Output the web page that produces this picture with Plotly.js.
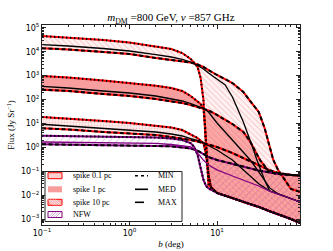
<!DOCTYPE html>
<html><head><meta charset="utf-8">
<script src="https://cdn.plot.ly/plotly-3.0.1.min.js"></script>
<style>html,body{margin:0;padding:0;background:#fff}#chart{width:333px;height:251px}</style>
</head><body><div id="chart"></div>
<script>
// ---- data: b in degrees, flux in Jy/sr ----
// spike 10 pc
const b10Min = [0.1,0.2,0.5,1,2,3,4,5,5.5,6,6.5,7,7.3,7.6,8,10,15,20,30,40,50,60,70,90];
const f10Min = [45000,39000,31000,24000,16800,13000,8800,5000,3400,2300,790,95,5.3,0.29,0.026,0.0123,0.0076,0.0051,0.0032,0.0021,0.0016,0.00126,0.001,0.00067];
const b10Med = [0.1,0.2,0.5,1,2,3,4,5,6,7,8,10,12.4,15,20,25,28.6,35,40,50,60,70,90];
const f10Med = [19600,17300,13600,10700,7480,6000,4720,3710,2650,1890,1280,721,405,127,11.5,1.25,0.294,0.043,0.0148,0.0112,0.0087,0.0069,0.0051];
const b10Max = [0.1,0.2,0.5,1,2,3,4,5,6,7,8,10,15,20,25,30,35,40,44,50,60,70,90];
const f10Max = [13900,12400,9710,8010,5450,4500,3890,3530,2910,2290,1710,1060,490,206,71,30,6.4,1.13,0.294,0.112,0.039,0.018,0.0135];
// spike 1 pc
const b1Min = [0.1,0.2,0.5,1,2,3,4,5,6,6.5,7,7.3,7.6,8,8.5,10,15,20,30,40,50,60,70,90];
const f1Min = [960,830,624,490,378,302,227,140,87,65,43,8.5,0.77,0.069,0.022,0.0123,0.0076,0.0051,0.0032,0.0021,0.0016,0.00126,0.001,0.00067];
const b1Med = [0.1,0.2,0.5,1,2,3,4,5,6,7,8,10,15,20,24,30,40,50,60,70,90];
const f1Med = [357,303,227,187,140,110,86.5,68,53.5,42.9,30,10.4,2.02,0.635,0.294,0.093,0.02,0.0112,0.0087,0.0069,0.0051];
const b1Max = [0.1,0.2,0.5,1,2,3,4,5,6,7,8,10,15,20,24,31,40,50,60,70,90];
const f1Max = [257,227,170,140,105,86.5,71,59,48.6,42.9,35,22.5,9.4,4.4,1.7,0.294,0.089,0.076,0.072,0.069,0.066];
// spike 0.1 pc
const b01Min = [0.1,0.2,0.5,1,2,3,4,5,6,7,7.5,8,8.5,10,15,20,30,40,50,60,70,90];
const f01Min = [18.5,16,12.6,10.4,8.1,6.7,5.3,3.6,2.45,1.5,0.48,0.069,0.022,0.0123,0.0076,0.0051,0.0032,0.0021,0.0016,0.00126,0.001,0.00067];
const b01Med = [0.1,0.2,0.5,1,2,3,4,5,6,7,8,10,15,20,30,40,50,60,70,90];
const f01Med = [9.2,7.8,6.1,5.3,4.37,3.6,2.97,2.33,1.93,1.51,1.19,0.77,0.295,0.113,0.03,0.0148,0.0112,0.0087,0.0069,0.0051];
const b01Max = [0.1,0.2,0.5,1,2,3,4,5,6,7,8,10,15,20,30,40,50,60,70,90];
const f01Max = [6.2,5.6,4.37,3.8,3.27,2.7,2.33,2.02,1.75,1.51,1.31,1.03,0.575,0.356,0.18,0.11,0.085,0.074,0.07,0.066];
// NFW
const bNfwMin = [0.1,0.2,0.5,1,2,3,4,5,5.5,6,6.5,7,7.5,8,10,15,20,30,40,50,60,70,90];
const fNfwMin = [3.05,2.97,2.83,2.7,2.57,2.33,2.02,1.51,1.03,0.48,0.136,0.043,0.024,0.019,0.0123,0.0076,0.0051,0.0032,0.0021,0.0016,0.00126,0.001,0.00067];
const bNfwMed = [0.1,0.2,0.5,1,2,3,4,5,5.5,6,7,8,10,15,20,30,40,50,60,70,90];
const fNfwMed = [1.67,1.62,1.58,1.51,1.45,1.31,1.19,1.03,0.85,0.575,0.29,0.18,0.113,0.063,0.043,0.024,0.0148,0.0112,0.0087,0.0069,0.0051];
const bNfwMax = [0.1,0.2,0.5,1,2,3,4,5,6,7,8,10,15,20,30,40,50,60,70,90];
const fNfwMax = [1.34,1.31,1.25,1.19,1.13,1.10,1.0,0.89,0.73,0.52,0.39,0.295,0.20,0.15,0.107,0.089,0.076,0.072,0.069,0.066];

const groupNames = ['spike 0.1 pc','spike 1 pc','spike 10 pc','NFW'];
const lineNames = ['MIN','MED','MAX'];
const xTickVals = [0.1,1,10];
const xTickText = ['10<sup>−1</sup>','10<sup>0</sup>','10<sup>1</sup>'];
const yTickVals = [1e-3,1e-2,1e-1,1,10,100,1e3,1e4,1e5];
const yTickText = ['10<sup>−3</sup>','10<sup>−2</sup>','10<sup>−1</sup>','10<sup>0</sup>','10<sup>1</sup>','10<sup>2</sup>','10<sup>3</sup>','10<sup>4</sup>','10<sup>5</sup>'];

// ---- styles ----
const groups = [
  {min:[b01Min,f01Min], med:[b01Med,f01Med], max:[b01Max,f01Max], edge:'#ff0000', med_c:'#000',
   fill:'rgba(248,140,140,0.16)', pat:{shape:'.', fgcolor:'rgba(240,90,90,0.5)', size:3, solidity:0.3, fillmode:'overlay'}},
  {min:[b1Min,f1Min], med:[b1Med,f1Med], max:[b1Max,f1Max], edge:'#ff0000', med_c:'#000',
   fill:'rgba(245,120,120,0.72)', pat:null},
  {min:[b10Min,f10Min], med:[b10Med,f10Med], max:[b10Max,f10Max], edge:'#ff0000', med_c:'#000',
   fill:'rgba(255,200,200,0.22)', pat:{shape:'\\', fgcolor:'rgba(240,90,90,0.6)', size:4, solidity:0.25, fillmode:'overlay'}},
  {min:[bNfwMin,fNfwMin], med:[bNfwMed,fNfwMed], max:[bNfwMax,fNfwMax], edge:'#800080', med_c:'#800080',
   fill:'rgba(255,255,255,0)', pat:{shape:'/', fgcolor:'rgba(150,60,160,0.55)', size:5, solidity:0.18, fillmode:'overlay'}}
];

const traces = [];
groups.forEach((g,i) => {
  const t = {x: g.min[0].concat(g.max[0].slice().reverse()),
             y: g.min[1].concat(g.max[1].slice().reverse()),
             type:'scatter', mode:'lines', line:{width:0}, fill:'toself', fillcolor:g.fill,
             name: groupNames[i], showlegend:false, hoverinfo:'skip'};
  if (g.pat) t.fillpattern = g.pat;
  traces.push(t);
});
const ln = (d, color, width, dash) => ({x:d[0], y:d[1], type:'scatter', mode:'lines',
  line:{color, width, dash}, showlegend:false, hoverinfo:'skip'});
groups.forEach(g => {
  traces.push(ln(g.min, g.edge, 2, 'solid'));
  traces.push(ln(g.max, g.edge, 2, 'solid'));
});
groups.forEach(g => {
  traces.push(ln(g.min, '#000', 2, '1.5px,2.5px'));
  traces.push(ln(g.max, '#000', 2, '4px,2.5px'));
  traces.push(ln(g.med, g.med_c, 1.3, 'solid'));
});

// ---- layout helpers (pixel -> paper) ----
const W=333, H=251, ML=42, MR=33, MT=25, MB=26;
const PW=W-ML-MR, PH=H-MT-MB;
const X = px => (px-ML)/PW, Y = py => (H-MB-py)/PH;

const shapes = [];
const annotations = [];
shapes.push({type:'rect', xref:'paper', yref:'paper', x0:X(45), x1:X(182), y0:Y(221.5), y1:Y(171.5),
  fillcolor:'#fff', line:{color:'#222', width:1}, layer:'above'});
const rows = [175.7, 189.3, 202.3, 214.5];
const symFill = ['#fcd0d0','#f89c9c','#f9b0b0','#ffffff'];
const symEdge = ['#ff0000', null, '#ff0000', '#800080'];
rows.forEach((r,i) => {
  shapes.push({type:'rect', xref:'paper', yref:'paper', x0:X(48), x1:X(62), y0:Y(r+3), y1:Y(r-3),
    fillcolor:symFill[i], line: symEdge[i] ? {color:symEdge[i], width:1} : {width:0}, layer:'above'});
  if (i===2 || i===3) {
    let p = '';
    for (let k=48; k<=56; k+=2.5) {
      if (i===2) p += `M${X(k)},${Y(r-3)} L${X(k+6)},${Y(r+3)} `;
      else p += `M${X(k)},${Y(r+3)} L${X(k+6)},${Y(r-3)} `;
    }
    shapes.push({type:'path', xref:'paper', yref:'paper', path:p,
      line:{color: i===2 ? 'rgba(255,255,255,0.9)' : 'rgba(160,80,170,0.6)', width:0.8}, layer:'above'});
  }
  annotations.push({xref:'paper', yref:'paper', x:X(71), y:Y(r), xanchor:'left', yanchor:'middle',
    text: groupNames[i], showarrow:false, font:{family:'Liberation Serif', size:8, color:'#000'}});
});
const dashes = ['dot','solid','dash'];
lineNames.forEach((n,i) => {
  shapes.push({type:'line', xref:'paper', yref:'paper', x0:X(135), x1:X(148), y0:Y(rows[i]), y1:Y(rows[i]),
    line:{color:'#000', width:1.6, dash:dashes[i]}, layer:'above'});
  annotations.push({xref:'paper', yref:'paper', x:X(156), y:Y(rows[i]), xanchor:'left', yanchor:'middle',
    text: n, showarrow:false, font:{family:'Liberation Serif', size:8, color:'#000'}});
});

const axisCommon = {type:'log', tickmode:'array', ticks:'inside', ticklen:4, tickwidth:0.8, tickcolor:'#222',
  mirror:'allticks', showline:true, linecolor:'#222', linewidth:1, showgrid:false, zeroline:false,
  tickfont:{family:'DejaVu Sans', size:8, color:'#000'},
  minor:{ticks:'inside', ticklen:2, tickwidth:0.6, tickcolor:'#222', dtick:'D1', showgrid:false}};

const layout = {
  width:W, height:H, margin:{l:ML, r:MR, t:MT, b:MB, pad:0},
  paper_bgcolor:'#fff', plot_bgcolor:'#fff', showlegend:false,
  title:{text:'<i>m</i><sub>DM</sub> =800 GeV, <i>ν</i> =857 GHz', font:{family:'Liberation Serif', size:11, color:'#000'},
    x:0.5, xref:'paper', xanchor:'center', y:1-17.5/H, yref:'container', yanchor:'middle'},
  xaxis: Object.assign({}, axisCommon, {range:[-1, -1+PW/87.5], tickvals:xTickVals, ticktext:xTickText,
    title:{text:'<i>b</i> (deg)', font:{family:'Liberation Serif', size:9, color:'#000'}, standoff:4}}),
  yaxis: Object.assign({}, axisCommon, {range:[-3.251, 5.117], tickvals:yTickVals, ticktext:yTickText,
    title:{text:'Flux (Jy Sr<sup>−1</sup>)', font:{family:'Liberation Serif', size:9, color:'#000'}, standoff:4}}),
  shapes, annotations
};

Plotly.newPlot('chart', traces, layout, {displayModeBar:false});
</script>
</body></html>
